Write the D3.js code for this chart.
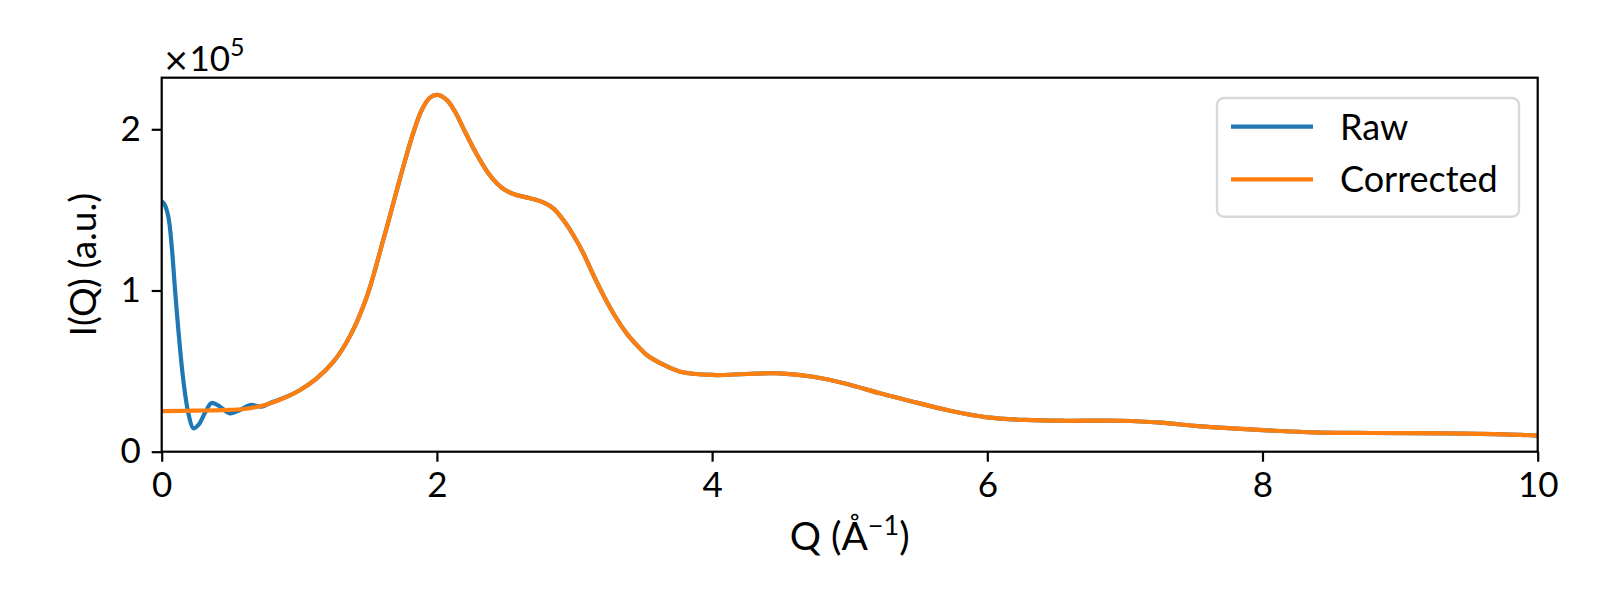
<!DOCTYPE html>
<html>
<head>
<meta charset="utf-8">
<script src="https://cdn.jsdelivr.net/npm/d3@7"></script>
<style>
  body { margin: 0; background: #fff; }
  svg text { font-family: Lato, "DejaVu Sans", sans-serif; fill: #000; }
</style>
</head>
<body>
<div id="chart"></div>
<script>
// --- data ----------------------------------------------------
var qCorr = [0.0, 0.25, 0.45, 0.6, 0.75, 0.88, 1.0, 1.12, 1.25, 1.37, 1.49, 1.61, 1.647, 1.708, 1.768,
  1.829, 1.89, 1.95, 2.003, 2.071, 2.132, 2.192, 2.253, 2.313, 2.374, 2.435, 2.495, 2.555, 2.677,
  2.773, 2.846, 2.919, 2.991, 3.064, 3.137, 3.209, 3.282, 3.379, 3.464, 3.525, 3.645, 3.77, 4.0,
  4.25, 4.49, 4.735, 4.98, 5.22, 5.41, 5.73, 6.0, 6.28, 6.56, 6.98, 7.26, 7.53, 7.81, 8.09, 8.37,
  8.78, 9.34, 9.76, 10.0]
var iCorr = [25200, 25500, 25800, 26500, 29000, 33000, 38000, 45000, 56000, 72000, 96000, 131300,
  142700, 162000, 180500, 198000, 212000, 219600, 221300, 218200, 210900, 200600, 190300, 181000,
  172700, 166500, 162300, 159900, 157200, 154700, 151000, 143700, 134400, 123100, 109600, 97200,
  85900, 73400, 65100, 60000, 54000, 49600, 47600, 48200, 48600, 46500, 42000, 36200, 32100,
  25400, 21300, 19700, 19200, 19200, 18000, 15900, 14300, 13000, 12000, 11600, 11400, 10800, 10000]

// raw differs from corrected only at low Q
var qRawLow = [0.0, 0.02, 0.048, 0.073, 0.097, 0.121, 0.157, 0.194, 0.23, 0.27, 0.32, 0.363, 0.424,
  0.496, 0.569, 0.642, 0.727, 0.811, 0.908]
var iRawLow = [155500, 153500, 145800, 127200, 100300, 75500, 44500, 23800, 14500, 17000, 25000,
  30200, 27900, 23800, 25900, 29000, 28000, 31000, 34100]

var xTicks = [0, 2, 4, 6, 8, 10]
var yTicks = [0, 100000, 200000]
var seriesNames = ["Raw", "Corrected"]
var seriesColors = ["#1f77b4", "#ff7f0e"]

// --- build series ------------------------------------------
var corrected = qCorr.map((q, i) => ({ q: q, v: iCorr[i] }))
var raw = qRawLow.map((q, i) => ({ q: q, v: iRawLow[i] }))
  .concat(corrected.filter(d => d.q >= 1.0))

var width = 1600,
    height = 600,
    margin = { left: 161.7, right: 62.3, top: 77.7, bottom: 148.3 }

var x = d3.scaleLinear().domain([0, 10]).range([margin.left, width - margin.right])
var y = d3.scaleLinear().domain([0, 232000]).range([height - margin.bottom, margin.top])

var svg = d3.select("#chart").append("svg")
  .attr("width", width)
  .attr("height", height)

// clip lines to plot area
svg.append("clipPath").attr("id", "clip")
  .append("rect")
  .attr("x", x(0)).attr("y", y(232000))
  .attr("width", x(10) - x(0)).attr("height", y(0) - y(232000))

var line = d3.line()
  .x(d => x(d.q))
  .y(d => y(d.v))
  .curve(d3.curveCatmullRom.alpha(0.5))

var lines = svg.append("g").attr("clip-path", "url(#clip)")
;[raw, corrected].forEach((s, i) => {
  lines.append("path")
    .datum(s)
    .attr("d", line)
    .attr("fill", "none")
    .attr("stroke", seriesColors[i])
    .attr("stroke-width", 4.2)
    .attr("stroke-linejoin", "round")
})

// --- axes ---------------------------------------------------
var xAxis = svg.append("g")
  .attr("transform", `translate(0,${y(0)})`)
  .call(d3.axisBottom(x).tickValues(xTicks).tickSize(10).tickPadding(10).tickFormat(d3.format("d")))
var yAxis = svg.append("g")
  .attr("transform", `translate(${x(0)},0)`)
  .call(d3.axisLeft(y).tickValues(yTicks).tickSize(10).tickPadding(11).tickFormat(d => d / 1e5))

;[xAxis, yAxis].forEach(a => {
  a.select(".domain").remove()
  a.selectAll(".tick line").attr("stroke", "#000").attr("stroke-width", 2.2)
  a.selectAll(".tick text").style("font-size", "35px")
})

// frame
svg.append("rect")
  .attr("x", x(0)).attr("y", y(232000))
  .attr("width", x(10) - x(0)).attr("height", y(0) - y(232000))
  .attr("fill", "none")
  .attr("stroke", "#000")
  .attr("stroke-width", 2.2)

// offset text
var off = svg.append("text")
  .attr("x", x(0) + 1)
  .attr("y", 71)
  .style("font-size", "35px")
off.append("tspan").style("font-family", "DejaVu Sans").style("font-size", "32px").text("×")
off.append("tspan").text("10")
off.append("tspan").attr("dy", -15).style("font-size", "25px").text("5")

// axis labels
var xl = svg.append("text")
  .attr("x", (x(0) + x(10)) / 2)
  .attr("y", 550)
  .attr("text-anchor", "middle")
  .style("font-size", "39px")
xl.append("tspan").text("Q (Å")
xl.append("tspan").attr("dy", -15).style("font-size", "27px").text("−1")
xl.append("tspan").attr("dy", 15).text(")")

svg.append("text")
  .attr("transform", `translate(96,${(y(0) + y(232000)) / 2}) rotate(-90)`)
  .attr("text-anchor", "middle")
  .style("font-size", "37px")
  .text("I(Q) (a.u.)")

// --- legend -------------------------------------------------
var legend = svg.append("g")
legend.append("rect")
  .attr("x", 1217).attr("y", 98)
  .attr("width", 302).attr("height", 118.7)
  .attr("rx", 7)
  .attr("fill", "#fff").attr("fill-opacity", 0.8)
  .attr("stroke", "#d9d9d9").attr("stroke-width", 2.5)

seriesNames.forEach((name, i) => {
  var ly = 126.7 + i * 52.6
  legend.append("line")
    .attr("x1", 1231).attr("x2", 1313)
    .attr("y1", ly).attr("y2", ly)
    .attr("stroke", seriesColors[i])
    .attr("stroke-width", 4.2)
  legend.append("text")
    .attr("x", 1340).attr("y", ly + 13)
    .style("font-size", "36px")
    .text(name)
})
</script>
</body>
</html>
